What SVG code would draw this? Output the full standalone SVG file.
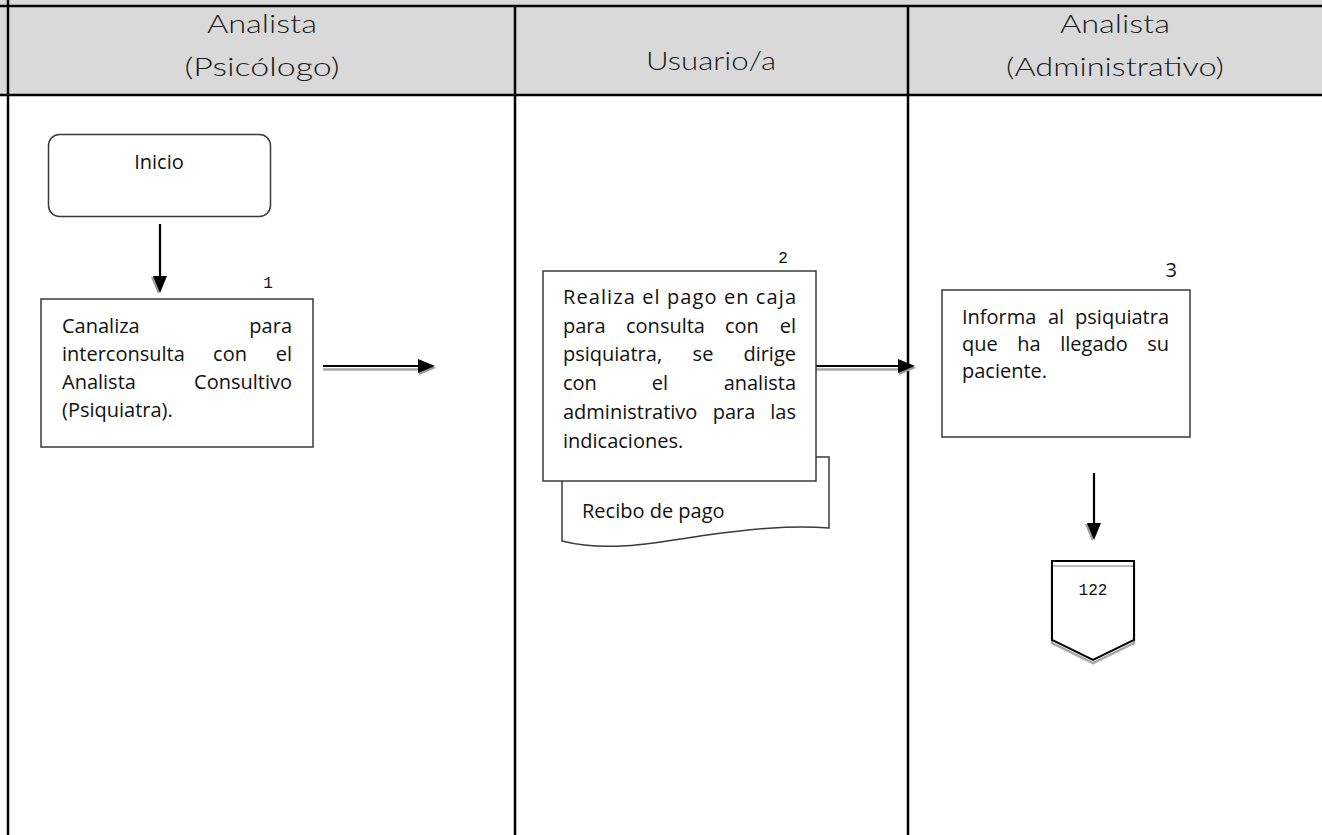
<svg xmlns="http://www.w3.org/2000/svg" width="1322" height="835" viewBox="0 0 1322 835">
  <style>
    .lane { stroke: #000; stroke-width: 2.5; fill: none; }
    .head { font-family: Lato, "Open Sans", "DejaVu Sans", sans-serif; font-weight: 300; font-size: 25px; fill: #1a1a1a; text-anchor: middle; }
    .box { fill: #fff; stroke: #3a3a3a; stroke-width: 1.5; }
    .t { font-family: "Open Sans", "Noto Sans", "DejaVu Sans", sans-serif; font-size: 20px; fill: #111; }
    .m { text-anchor: middle; }
    .e { text-anchor: end; }
    .num { font-family: "Liberation Mono", "DejaVu Sans Mono", monospace; font-size: 16px; fill: #111; text-anchor: middle; }
    .wire { stroke: #000; stroke-width: 2.2; fill: none; }
    .wire-sh { stroke: #a6a6a6; stroke-width: 2.5; fill: none; }
  </style>
  <defs>
    <marker id="arrow" markerUnits="userSpaceOnUse" markerWidth="24" markerHeight="22" viewBox="0 0 24 22" refX="2" refY="9" orient="auto" overflow="visible">
      <path d="M3,3 L20,11 L3,18 Z" fill="#9a9a9a"/>
      <path d="M2,2 L19,9 L2,16 Z" fill="#000"/>
    </marker>
  </defs>

  <!-- swimlane frame -->
  <g id="lanes">
    <rect x="0" y="0" width="1322" height="95" fill="#d9d9d9"/>
    <rect x="0" y="95" width="1322" height="740" fill="#fff"/>
    <line class="lane" x1="0" y1="6" x2="1322" y2="6"/>
    <line class="lane" x1="0" y1="95" x2="1322" y2="95"/>
    <line class="lane" x1="8" y1="0" x2="8" y2="835"/>
    <line class="lane" x1="515" y1="6" x2="515" y2="835"/>
    <line class="lane" x1="908" y1="6" x2="908" y2="835"/>
    <text class="head" x="262" y="33" textLength="110" lengthAdjust="spacingAndGlyphs">Analista</text>
    <text class="head" x="262" y="76" textLength="155" lengthAdjust="spacingAndGlyphs">(Psicólogo)</text>
    <text class="head" x="711" y="70" textLength="130" lengthAdjust="spacingAndGlyphs">Usuario/a</text>
    <text class="head" x="1115" y="33" textLength="110" lengthAdjust="spacingAndGlyphs">Analista</text>
    <text class="head" x="1115" y="76" textLength="218" lengthAdjust="spacingAndGlyphs">(Administrativo)</text>
  </g>

  <!-- connectors -->
  <g id="connectors">
    <path class="wire" d="M160,224 V276" marker-end="url(#arrow)"/>
    <path class="wire-sh" d="M323,369.5 H420"/>
    <path class="wire" d="M323,366 H418" marker-end="url(#arrow)"/>
    <path class="wire-sh" d="M816,369.5 H900"/>
    <path class="wire" d="M816,366 H898" marker-end="url(#arrow)"/>
    <path class="wire" d="M1094,473 V523" marker-end="url(#arrow)"/>
  </g>

  <g id="inicio">
    <rect class="box" x="48.5" y="134.5" width="222" height="82" rx="11"/>
    <text class="t m" x="159" y="169">Inicio</text>
  </g>

  <g id="paso1">
    <text class="num" x="268" y="288">1</text>
    <rect class="box" x="41" y="299" width="272" height="148"/>
    <text class="t" x="62" y="333">Canaliza</text>
    <text class="t e" x="292" y="333">para</text>
    <text class="t" x="62" y="361">interconsulta</text>
    <text class="t m" x="230" y="361">con</text>
    <text class="t e" x="292" y="361">el</text>
    <text class="t" x="62" y="389">Analista</text>
    <text class="t e" x="292" y="389">Consultivo</text>
    <text class="t" x="62" y="417">(Psiquiatra).</text>
  </g>

  <g id="recibo">
    <path class="box" d="M562,457 H829 V528 C790,525 750,529 700,536 C650,544 605,552 562,541 Z"/>
    <text class="t" x="582" y="518">Recibo de pago</text>
  </g>

  <g id="paso2">
    <text class="num" x="783" y="263">2</text>
    <rect class="box" x="543" y="271" width="273" height="210"/>
    <text class="t" x="563" y="304" textLength="233" lengthAdjust="spacing">Realiza el pago en caja</text>
    <text class="t" x="563" y="333">para</text>
    <text class="t" x="626" y="333">consulta</text>
    <text class="t" x="725" y="333">con</text>
    <text class="t e" x="796" y="333">el</text>
    <text class="t" x="563" y="361">psiquiatra,</text>
    <text class="t m" x="703" y="361">se</text>
    <text class="t e" x="796" y="361">dirige</text>
    <text class="t" x="563" y="390">con</text>
    <text class="t m" x="660" y="390">el</text>
    <text class="t e" x="796" y="390">analista</text>
    <text class="t" x="563" y="419">administrativo</text>
    <text class="t m" x="734" y="419">para</text>
    <text class="t e" x="796" y="419">las</text>
    <text class="t" x="563" y="448">indicaciones.</text>
  </g>

  <g id="paso3">
    <text class="t" x="1177" y="277" font-size="18" text-anchor="end">3</text>
    <rect class="box" x="942" y="290" width="248" height="147"/>
    <text class="t" x="962" y="324">Informa</text>
    <text class="t m" x="1056" y="324">al</text>
    <text class="t e" x="1169" y="324">psiquiatra</text>
    <text class="t" x="962" y="351">que</text>
    <text class="t m" x="1029" y="351">ha</text>
    <text class="t m" x="1094" y="351">llegado</text>
    <text class="t e" x="1169" y="351">su</text>
    <text class="t" x="962" y="378">paciente.</text>
  </g>

  <g id="conector-122">
    <path d="M1052,564 H1134 V643 L1093,663 L1052,643 Z" fill="none" stroke="#a6a6a6" stroke-width="2.5"/>
    <path d="M1052,561 H1134 V640 L1093,660 L1052,640 Z" fill="#fff" stroke="#000" stroke-width="2"/>
    <line x1="1053" y1="566" x2="1133" y2="566" stroke="#a6a6a6" stroke-width="1.5"/>
    <text class="num" x="1093" y="595" font-size="18">122</text>
  </g>
</svg>
